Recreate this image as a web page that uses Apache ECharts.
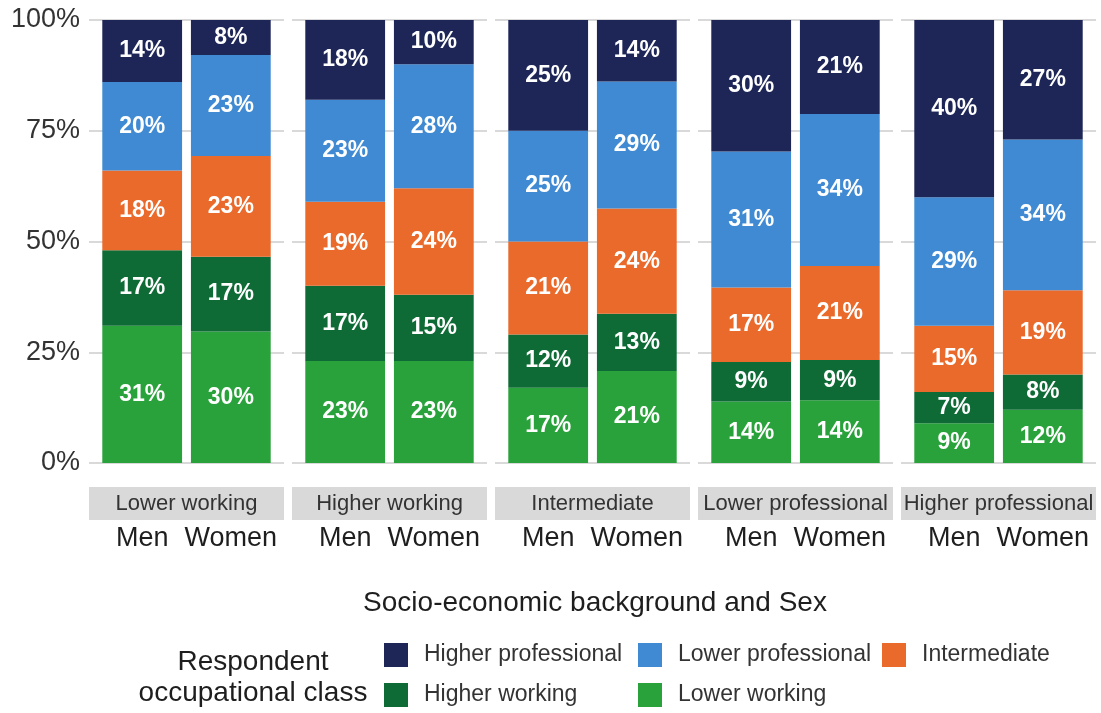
<!DOCTYPE html>
<html>
<head>
<meta charset="utf-8">
<script src="https://cdn.jsdelivr.net/npm/echarts@6/dist/echarts.min.js"></script>
<style>
html,body{margin:0;padding:0;background:#fff;}
#chart{width:1101px;height:713px;}
</style>
</head>
<body>
<div id="chart"></div>
<script>
const panels = ['Lower working', 'Higher working', 'Intermediate', 'Lower professional', 'Higher professional'];
const sexes = ['Men', 'Women'];
const classes = ['Lower working', 'Higher working', 'Intermediate', 'Lower professional', 'Higher professional'];
const legendOrder = ['Higher professional', 'Lower professional', 'Intermediate', 'Higher working', 'Lower working'];
const yTicks = [0, 25, 50, 75, 100];
// values per class, ordered panel by panel: [Men, Women] for each background
const lowerWorking       = [31, 30, 23, 23, 17, 21, 14, 14, 9, 12];
const higherWorking      = [17, 17, 17, 15, 12, 13, 9, 9, 7, 8];
const intermediate       = [18, 23, 19, 24, 21, 24, 17, 21, 15, 19];
const lowerProfessional  = [20, 23, 23, 28, 25, 29, 31, 34, 29, 34];
const higherProfessional = [14, 8, 18, 10, 25, 14, 30, 21, 40, 27];

const classValues = [lowerWorking, higherWorking, intermediate, lowerProfessional, higherProfessional];
const colors = ['#2aa23b', '#0f6b36', '#ea6a2b', '#3f8ad2', '#1d2657'];
const FONT = 'Liberation Sans, Arial, sans-serif';

const chart = echarts.init(document.getElementById('chart'));

const panelLeft0 = 89, panelStep = 203, panelW = 195, plotTop = 20, plotH = 443;
const unit = panelW / 2.2;

const grids = [], xAxes = [], yAxes = [], series = [], graphics = [];

// totals for each bar (to draw as 100% stacks)
const totals = [];
for (let k = 0; k < panels.length * 2; k++) {
  let s = 0;
  classValues.forEach(a => s += a[k]);
  totals.push(s);
}

// background grids (full panel width) for gridlines
panels.forEach((p, i) => {
  const left = panelLeft0 + i * panelStep;
  grids.push({left: left, top: plotTop, width: panelW, height: plotH, containLabel: false});
  xAxes.push({gridIndex: i, type: 'category', data: ['a'], show: false});
  yAxes.push({
    gridIndex: i, type: 'value', min: yTicks[0], max: yTicks[yTicks.length - 1], interval: 25,
    axisLine: {show: false}, axisTick: {show: false},
    splitLine: {show: true, lineStyle: {color: '#cccccc', width: 1.5}},
    axisLabel: {show: i === 0, formatter: v => v + '%', fontSize: 27, color: '#333', fontFamily: FONT, margin: 9}
  });
  graphics.push({
    type: 'rect', shape: {x: left, y: 487, width: panelW, height: 33},
    style: {fill: '#d9d9d9'}, silent: true
  });
  graphics.push({
    type: 'text', x: left + panelW / 2, y: 504,
    style: {text: p, fontSize: 22, fill: '#333', fontFamily: FONT, align: 'center', verticalAlign: 'middle'},
    silent: true
  });
});

// bar grids (inset as a discrete axis with expansion)
panels.forEach((p, i) => {
  const left = panelLeft0 + i * panelStep + 0.1 * unit;
  const gi = panels.length + i;
  grids.push({left: left, top: plotTop, width: 2 * unit, height: plotH, containLabel: false});
  xAxes.push({
    gridIndex: gi, type: 'category', data: sexes,
    axisLine: {show: false}, axisTick: {show: false},
    axisLabel: {interval: 0, fontSize: 27, color: '#1e1e1e', fontFamily: FONT, margin: 62}
  });
  yAxes.push({gridIndex: gi, type: 'value', min: 0, max: 100, show: false});
  classes.forEach((c, ci) => {
    const arr = classValues[ci];
    series.push({
      type: 'bar', name: c, stack: 'p' + i, xAxisIndex: gi, yAxisIndex: gi,
      barWidth: '90%',
      itemStyle: {color: colors[ci]},
      data: sexes.map((s, si) => {
        const k = i * 2 + si;
        return {value: arr[k] / totals[k] * 100, raw: arr[k]};
      }),
      label: {
        show: true, position: 'inside', formatter: prm => prm.data.raw + '%',
        color: '#fff', fontWeight: 'bold', fontSize: 23, fontFamily: FONT
      }
    });
  });
});

graphics.push({
  type: 'text', x: 595, y: 603,
  style: {text: 'Socio-economic background and Sex', fontSize: 28, fill: '#1e1e1e', fontFamily: FONT, align: 'center', verticalAlign: 'middle'}
});
graphics.push({
  type: 'text', x: 253, y: 678,
  style: {text: 'Respondent\noccupational class', fontSize: 28, lineHeight: 31, fill: '#1e1e1e', fontFamily: FONT, align: 'center', verticalAlign: 'middle'}
});

const legendPos = [[384, 643], [638, 643], [882, 643], [384, 683], [638, 683]];
const legends = legendOrder.map((n, i) => ({
  data: [n], left: legendPos[i][0], top: legendPos[i][1], padding: 0,
  icon: 'rect', itemWidth: 24, itemHeight: 24, itemGap: 0,
  selectedMode: false,
  textStyle: {fontSize: 23, color: '#333', fontFamily: FONT, padding: [0, 0, 0, 11]}
}));

chart.setOption({
  animation: false,
  grid: grids,
  xAxis: xAxes,
  yAxis: yAxes,
  series: series,
  legend: legends,
  graphic: graphics
});
</script>
</body>
</html>
